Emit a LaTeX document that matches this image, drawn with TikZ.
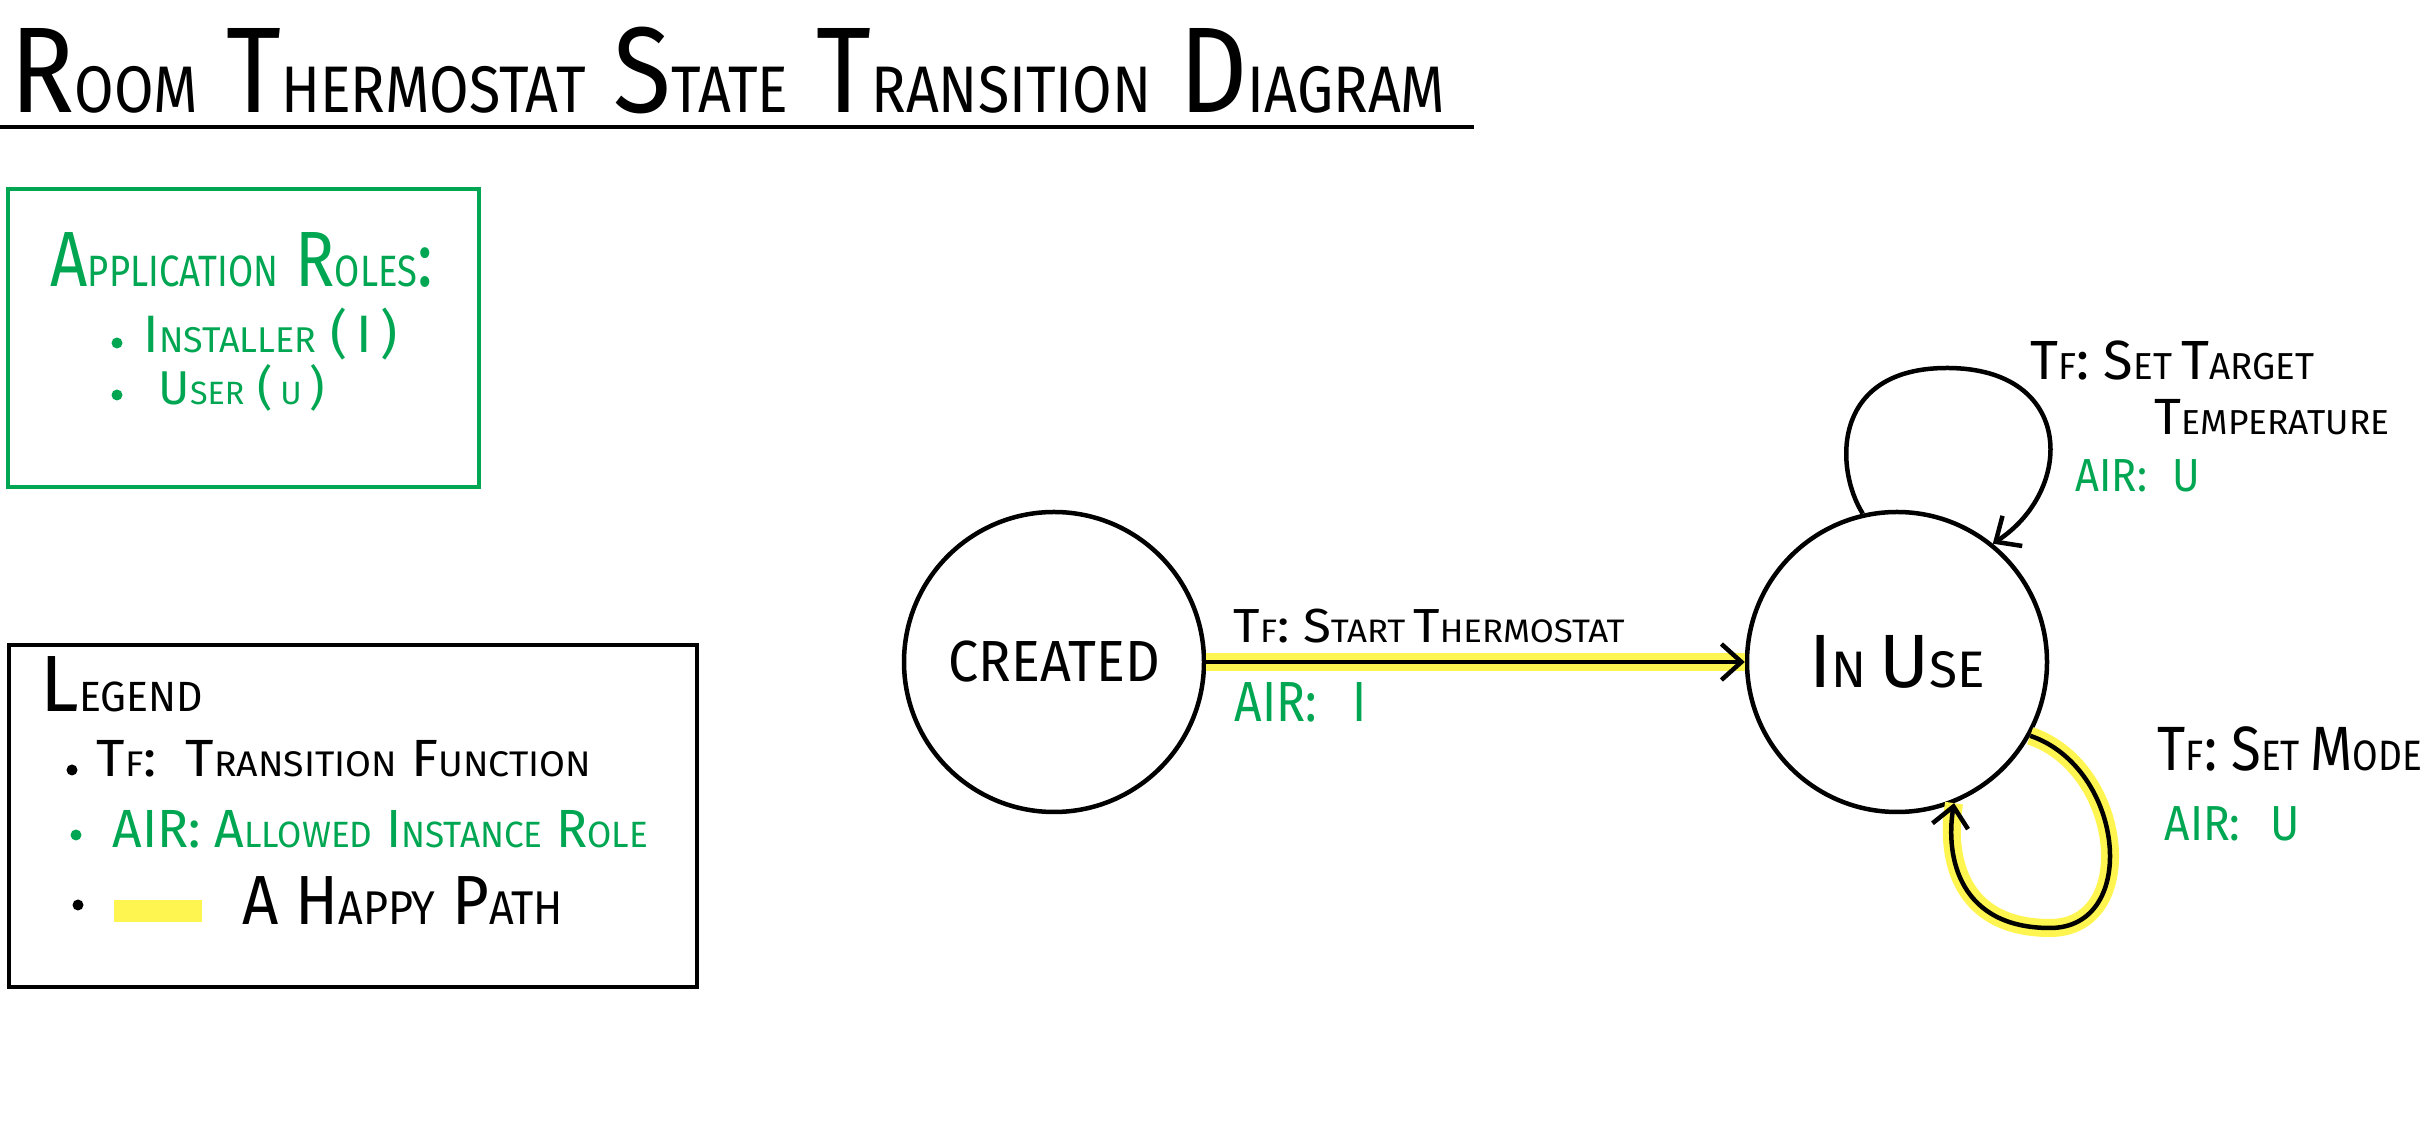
\documentclass[tikz,border=0pt]{standalone}
\usepackage{fontspec}
\usetikzlibrary{arrows.meta,positioning}
\definecolor{airgreen}{RGB}{0,166,81}
\definecolor{happy}{RGB}{255,245,80}
\makeatletter
\newcommand\sm[2][0.68]{{\fontsize{#1\dimexpr\f@size pt\relax}{0pt}\selectfont #2}}
\makeatother
\newcommand\fsz[2][1]{\fontspec[FakeStretch=#1]{Fira Sans}\fontsize{#2}{#2}\selectfont}
\begin{document}
\begin{tikzpicture}[x=0.1mm,y=0.1mm,
  lbl/.style={anchor=base west,inner sep=0pt},
  air/.style={lbl,text=airgreen},
  state/.style={circle,draw,line width=0.45mm,minimum size=30mm,inner sep=0pt},
  move/.style={line width=0.45mm,-{Straight Barb[length=2mm,width=3.6mm]}},
  hl/.style={line width=1.8mm,draw=happy},
  dot/.style={circle,fill,inner sep=0pt,minimum size=1.1mm}]
\useasboundingbox (0,0) rectangle (2428,1148);
\node[lbl,font={\fsz[0.87]{34.7}}] (title) at (10,1035) {R\sm[0.54]{OOM} T\sm[0.54]{HERMOSTAT} S\sm[0.54]{TATE} T\sm[0.54]{RANSITION} D\sm[0.54]{IAGRAM}};
\draw[line width=0.4mm] (0,1021) -- (1474,1021);

\draw[airgreen,line width=0.45mm] (8,661) rectangle (479,959);
\node[air,font={\fsz[0.83]{22.3}}] (roles) at (50,861) {A\sm[0.56]{PPLICATION} R\sm[0.56]{OLES}:};
\node[dot,airgreen] (d1) at (117,805) {}; \node[air,font={\fsz{15}}] (installer) at (143,795) {I\sm{NSTALLER} (\,I\,)};
\node[dot,airgreen] (d2) at (117,753) {}; \node[air,font={\fsz{13.5}}] (user) at (158,743) {U\sm{SER} (\,\sm{U}\,)};

\draw[line width=0.45mm] (9,161) rectangle (697,503);
\node[lbl,font={\fsz[0.97]{22.7}}] (legend) at (40,436) {L\sm[0.53]{EGEND}};
\node[dot] (d3) at (72,378) {}; \node[lbl,font={\fsz[1.05]{14.9}}] (tf) at (96,371) {T\sm{F}:\ \ T\sm{RANSITION} F\sm{UNCTION}};
\node[dot,airgreen] (d4) at (76,313) {}; \node[air,font={\fsz[0.96]{15.3}}] (airrole) at (112,300) {AIR: A\sm{LLOWED} I\sm{NSTANCE} R\sm{OLE}};
\node[dot] (d5) at (78,243) {}; \fill[happy] (114,226) rectangle (202,248); \node[lbl,font={\fsz[0.91]{19.8}}] (path) at (242,223) {A H\sm{APPY} P\sm{ATH}};

\node[state,font={\fsz[0.93]{16.5}}] (created) at (1054,486) {CREATED};
\node[state,font={\fsz{21.5}}] (inuse) at (1897,486) {I\sm{N}\,U\sm{SE}};

\draw[hl] (created) -- (inuse);
\draw[move] (created) -- (inuse);
\node[lbl,font={\fsz[1.07]{13.6}}] (start) at (1233,505) {T\sm{F}: S\sm{TART}\,T\sm{HERMOSTAT}};
\node[air,font={\fsz[0.85]{16.1}}] (startair) at (1234,426) {AIR:\hspace{3.5mm}I};

\draw[move] (inuse.103) .. controls (1835,678) and (1830,780) .. (1947,780) .. controls (2075,780) and (2075,658) .. (inuse.51);
\node[lbl,font={\fsz[0.98]{15.7}}] (target) at (2030,768) {T\sm{F}: S\sm{ET}\,T\sm{ARGET}};
\node[lbl,font={\fsz[1.02]{14.5}}] (temp) at (2154,713) {T\sm{EMPERATURE}};
\node[air,font={\fsz[0.9]{13.2}}] (targetair) at (2075,656) {AIR:\hspace{2.5mm}U};

\draw[hl] (inuse.-29) .. controls (2125,380) and (2140,220) .. (2050,220) .. controls (1960,220) and (1945,290) .. (inuse.-68);
\draw[move] (inuse.-29) .. controls (2125,380) and (2140,220) .. (2050,220) .. controls (1960,220) and (1945,290) .. (inuse.-68);
\node[lbl,font={\fsz[0.87]{17.8}}] (mode) at (2157,377) {T\sm{F}: S\sm{ET}\,M\sm{ODE}};
\node[air,font={\fsz[0.9]{14}}] (modeair) at (2164,307) {AIR:\hspace{3mm}U};
\end{tikzpicture}
\end{document}
